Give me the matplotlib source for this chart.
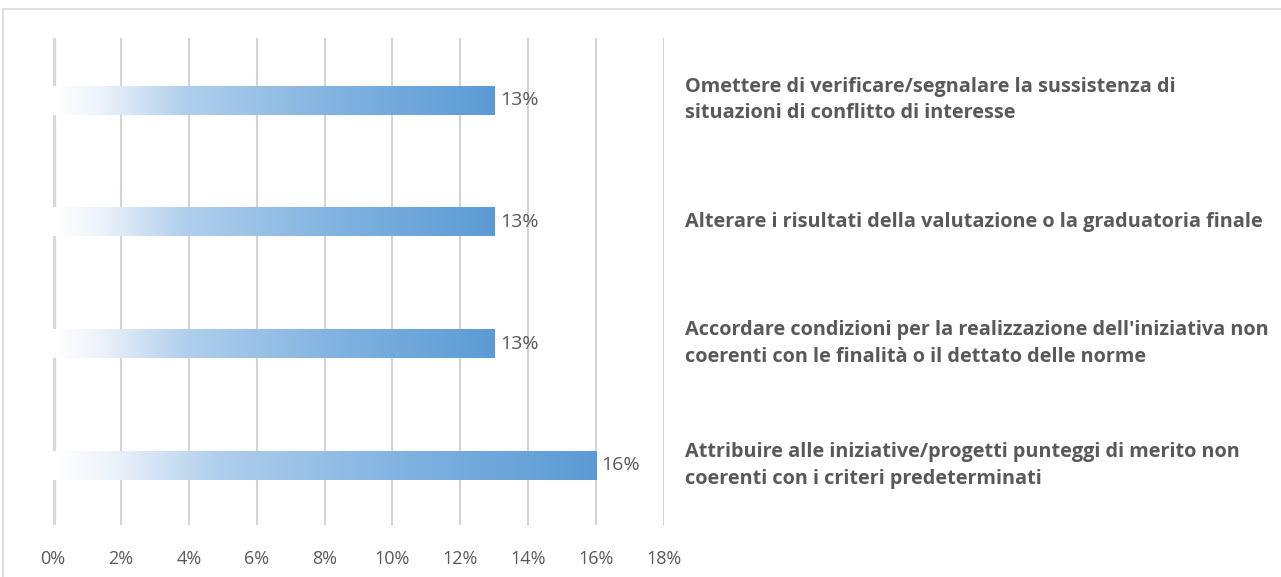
import numpy as np
import matplotlib
matplotlib.use("Agg")
import matplotlib.pyplot as plt
from matplotlib.colors import LinearSegmentedColormap
from matplotlib.patches import Rectangle
from matplotlib.ticker import FuncFormatter, MultipleLocator

categories = [
    "Omettere di verificare/segnalare la sussistenza di\nsituazioni di conflitto di interesse",
    "Alterare i risultati della valutazione o la graduatoria finale",
    "Accordare condizioni per la realizzazione dell'iniziativa non\ncoerenti con le finalità o il dettato delle norme",
    "Attribuire alle iniziative/progetti punteggi di merito non\ncoerenti con i criteri predeterminati",
]
values = [13, 13, 13, 16]
value_labels = ["13%", "13%", "13%", "16%"]
x_max = 18
x_step = 2

W, H = 1281, 577
fig = plt.figure(figsize=(W / 100, H / 100), dpi=100)
fig.patch.set_facecolor("white")

# figure border (top and left visible)
fig.add_artist(Rectangle((3 / W, -0.1), 1.2, (H - 9) / H + 0.1, transform=fig.transFigure,
                         fill=False, edgecolor="#d9d9d9", linewidth=1.2))

left, right = 53 / W, 664 / W
top, bottom = 1 - 38 / H, 1 - 525 / H
ax = fig.add_axes([left, bottom, right - left, top - bottom])

y = np.arange(len(categories))
ax.set_xlim(0, x_max)
ax.set_ylim(len(categories) - 0.5, -0.5)

bars = ax.barh(y + 0.01, values, height=0.238, color="none", edgecolor="none", zorder=3)

cmap = LinearSegmentedColormap.from_list(
    "grad", [(0.0, "#ffffff"), (0.1, "#eef4fb"), (0.3, "#b0cfec"), (0.65, "#80b2e0"), (1.0, "#5b9bd5")])
grad = np.linspace(0, 1, 256).reshape(1, -1)
for b in bars:
    x0, y0 = b.get_x(), b.get_y()
    w, h = b.get_width(), b.get_height()
    im = ax.imshow(grad, cmap=cmap, aspect="auto", extent=(x0, x0 + w, y0 + h, y0),
                   zorder=3, interpolation="bilinear")
    im.set_clip_path(b)

for b, lab in zip(bars, value_labels):
    ax.annotate(lab, (b.get_width(), b.get_y() + b.get_height() / 2), xytext=(4, 0),
                textcoords="offset points", va="center", ha="left",
                fontsize=14, color="#595959", family="Open Sans")

for yi, cat in zip(y, categories):
    ax.text(1.034, yi + 0.01, cat, transform=ax.get_yaxis_transform(), ha="left", va="center",
            fontsize=14.3, fontweight="bold", color="#595959", family="Open Sans",
            linespacing=1.44, clip_on=False)

ax.xaxis.set_major_locator(MultipleLocator(x_step))
ax.xaxis.set_major_formatter(FuncFormatter(lambda v, p: f"{v:.0f}%"))
ax.grid(axis="x", color="#d4d4d4", linewidth=1.5, zorder=0)
ax.set_axisbelow(True)
ax.axvline(0, color="#d9d9d9", linewidth=4.5, zorder=1)
ax.set_yticks([])
for s in ax.spines.values():
    s.set_visible(False)
ax.tick_params(axis="x", length=0, pad=18, labelsize=13, labelcolor="#595959")
for t in ax.get_xticklabels():
    t.set_family("Open Sans")

fig.savefig("out.png", dpi=100, facecolor="white")
